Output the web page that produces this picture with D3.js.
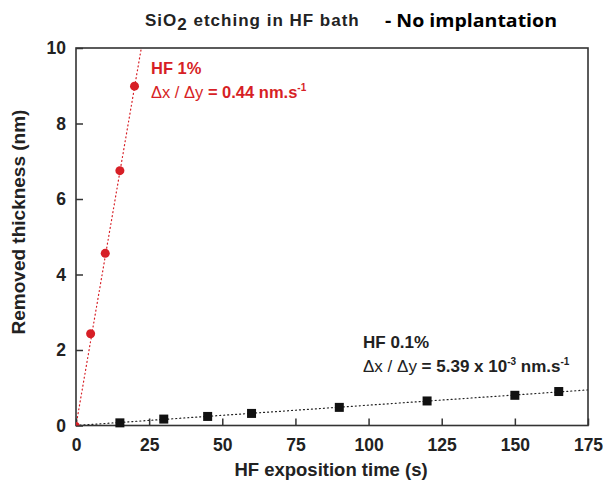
<!DOCTYPE html>
<html><head><meta charset="utf-8">
<script src="https://cdn.jsdelivr.net/npm/d3@7"></script>
<style>body{margin:0;background:#fff}svg{display:block}</style>
</head><body>
<svg id="c" width="603" height="484"></svg>
<script>
const hf1Time = [0, 5, 10, 15, 20];
const hf1Thick = [0, 2.43, 4.56, 6.75, 8.99];
const hf01Time = [15, 30, 45, 60, 90, 120, 150, 165];
const hf01Thick = [0.07, 0.17, 0.24, 0.32, 0.48, 0.65, 0.80, 0.90];
const hf1Slope = 0.448;
const hf01Slope = 0.00539;
const xTicks = [0, 25, 50, 75, 100, 125, 150, 175];
const yTicks = [0, 2, 4, 6, 8, 10];

const svg = d3.select("#c");
const L = 76, R = 588, T = 48, B = 425.5;
const x = d3.scaleLinear().domain([0, 175]).range([L, R]);
const y = d3.scaleLinear().domain([0, 10]).range([B, T]);
const font = "'Liberation Sans', Arial, sans-serif";
const red = "#d71f26";

svg.append("clipPath").attr("id","pc").append("rect")
  .attr("x", L).attr("y", T).attr("width", R-L).attr("height", B-T);

// fit lines
const g = svg.append("g").attr("clip-path","url(#pc)");
const xEnd = 10/hf1Slope + 2;
g.append("line").attr("x1", x(0)).attr("y1", y(0)).attr("x2", x(xEnd)).attr("y2", y(hf1Slope*xEnd))
  .attr("stroke", red).attr("stroke-width", 1.2).attr("stroke-dasharray", "1 3").attr("stroke-linecap","round");
g.append("line").attr("x1", x(0)).attr("y1", y(0)).attr("x2", x(175)).attr("y2", y(175*hf01Slope))
  .attr("stroke", "#222").attr("stroke-width", 1.2).attr("stroke-dasharray", "1 3").attr("stroke-linecap","round");

// axes
const xa = svg.append("g").attr("transform", `translate(0,${B})`)
  .call(d3.axisBottom(x).tickValues(xTicks).tickSizeInner(-7).tickSizeOuter(0).tickPadding(9));
const ya = svg.append("g").attr("transform", `translate(${L},0)`)
  .call(d3.axisLeft(y).tickValues(yTicks).tickSizeInner(-7).tickSizeOuter(0).tickPadding(10));
[xa, ya].forEach(a => {
  a.select(".domain").remove();
  a.selectAll("line").attr("stroke", "#333").attr("stroke-width", 1.5);
  a.selectAll("text").attr("font-family", font).attr("font-weight", "bold").attr("font-size", 17.5).attr("fill", "#222");
});
xa.selectAll("text").attr("dy", "0.95em");

svg.append("rect").attr("x", L).attr("y", T).attr("width", R-L).attr("height", B-T)
  .attr("fill", "none").attr("stroke", "#333").attr("stroke-width", 1.6);

// markers
svg.append("g").selectAll("rect").data(hf01Time.map((t,i)=>[t,hf01Thick[i]])).join("rect")
  .attr("x", d => x(d[0]) - 4.5).attr("y", d => y(d[1]) - 4.5).attr("width", 9).attr("height", 9).attr("fill", "#111");
svg.append("g").attr("clip-path","url(#pc)").selectAll("circle").data(hf1Time.map((t,i)=>[t,hf1Thick[i]])).join("circle")
  .attr("cx", d => x(d[0])).attr("cy", d => y(d[1])).attr("r", (d,i) => i === 0 ? 3.5 : 4.5).attr("fill", red);

// axis titles
svg.append("text").attr("x", 331).attr("y", 476).attr("text-anchor","middle")
  .attr("font-family", font).attr("font-weight","bold").attr("font-size", 18.5).attr("fill","#222")
  .text("HF exposition time (s)");
svg.append("text").attr("transform","translate(25,222) rotate(-90)").attr("text-anchor","middle")
  .attr("font-family", font).attr("font-weight","bold").attr("font-size", 19).attr("fill","#222")
  .text("Removed thickness (nm)");

// title
const t1 = svg.append("text").attr("x", 145).attr("y", 26).attr("font-family", font).attr("font-weight","bold")
  .attr("font-size", 17).attr("letter-spacing", 1).attr("fill", "#222");
t1.append("tspan").text("SiO");
t1.append("tspan").attr("dy", 4).text("2");
t1.append("tspan").attr("dy", -4).text(" etching in HF bath");
svg.append("text").attr("x", 385).attr("y", 27).attr("font-family", "'Open Sans', sans-serif").attr("font-weight","bold")
  .attr("font-size", 18).attr("textLength", 172).attr("lengthAdjust","spacingAndGlyphs").attr("fill", "#000").text("- No implantation");

// annotations
function annot(xp, yp, color, fs, l1, parts) {
  svg.append("text").attr("x", xp).attr("y", yp).attr("font-family", font).attr("font-weight","bold")
    .attr("font-size", fs).attr("fill", color).text(l1);
  const t = svg.append("text").attr("x", xp).attr("y", yp + 24).attr("font-family", font).attr("font-weight","bold")
    .attr("font-size", fs).attr("fill", color);
  parts.forEach(p => {
    const s = t.append("tspan").text(p[0]);
    if (p[1]) s.attr("dy", p[1]);
    if (p[2]) s.attr("font-size", p[2]);
    if (p[3]) s.attr("font-weight", p[3]);
  });
}
annot(151, 74, red, 16.5, "HF 1%", [["Δx / Δy ",0,0,"normal"],["= 0.44 nm.s"],["-1",-7,10],["",7]]);
annot(363, 348, "#222", 17, "HF 0.1%", [["Δx / Δy ",0,0,"normal"],["= 5.39 x 10"],["-3",-7,10],[" nm.s",7],["-1",-7,10]]);
</script>
</body></html>
